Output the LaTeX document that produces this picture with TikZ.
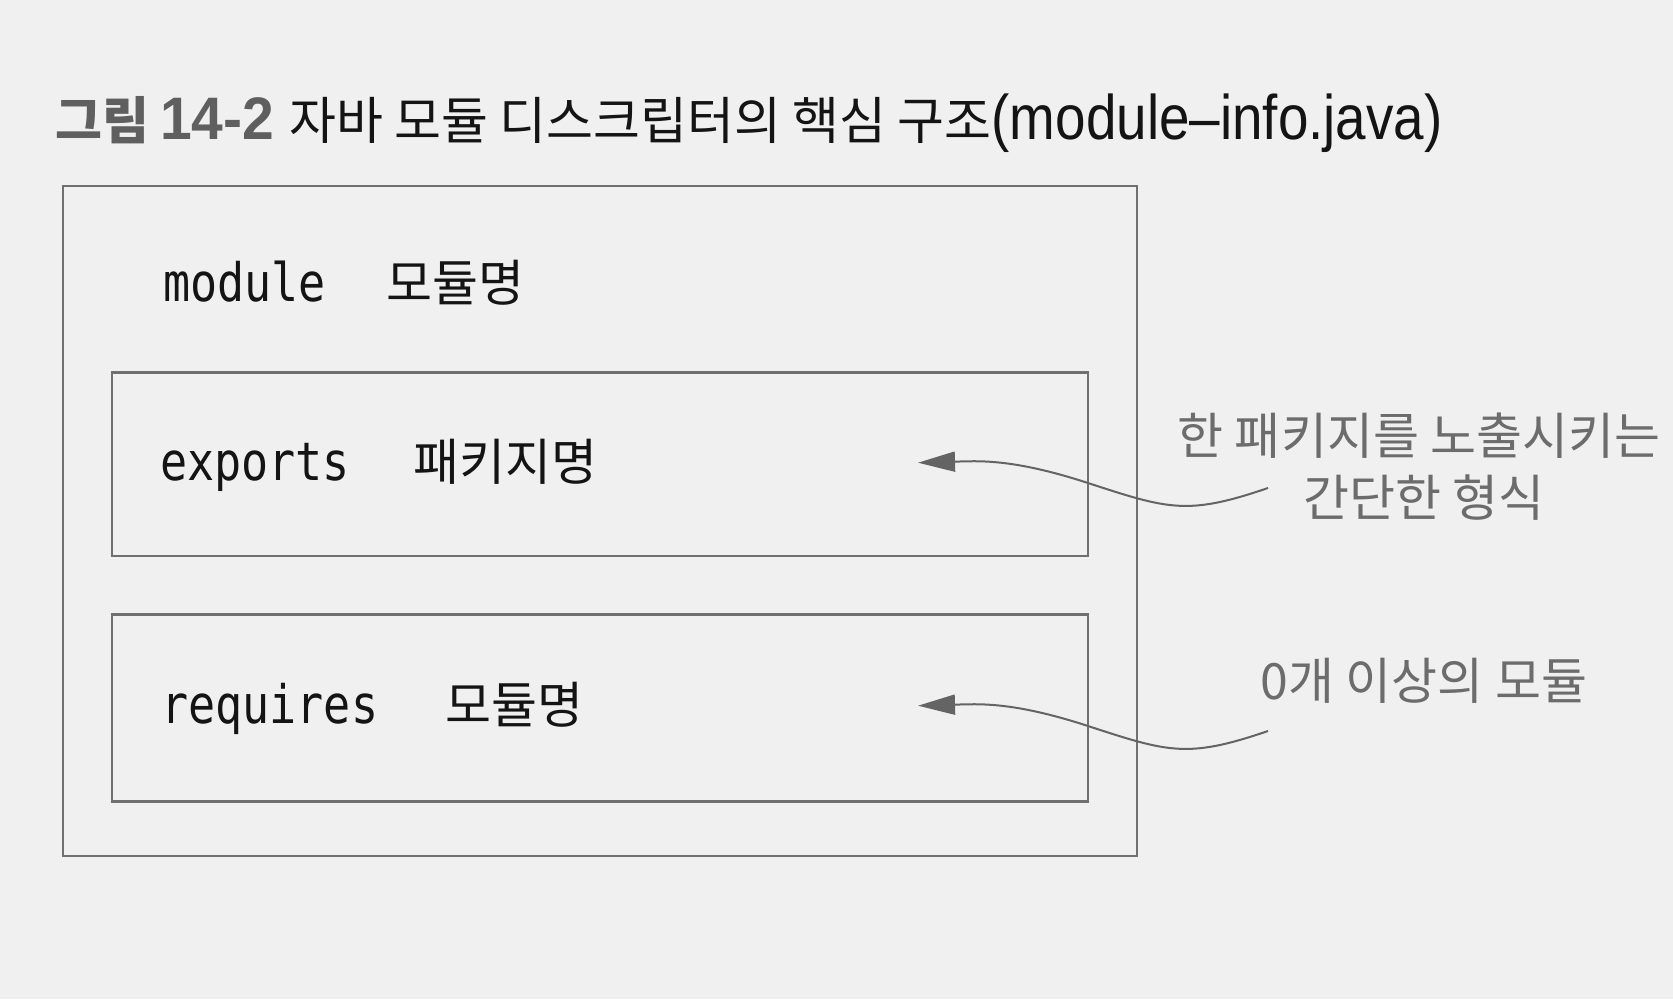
\documentclass[tikz,border=0pt]{standalone}
\usepackage{fontspec}
\usetikzlibrary{arrows.meta}
\newfontfamily\kr{Noto Sans CJK KR}
\newfontfamily\krmono[FakeStretch=0.85]{DejaVu Sans Mono}
\newfontfamily\krlat[FakeStretch=0.87]{Liberation Sans}
\newfontfamily\krlatb[FakeStretch=0.95]{Liberation Sans}
\definecolor{bgcol}{RGB}{240,240,240}
\definecolor{linecol}{RGB}{112,112,112}
\definecolor{arrcol}{RGB}{100,100,100}
\definecolor{notecol}{RGB}{108,108,108}
\definecolor{titlegray}{RGB}{95,95,95}
\definecolor{inkcol}{RGB}{20,20,20}
\tikzset{
  box/.style={draw=linecol, line width=2.8pt, rectangle, inner sep=0pt},
  kw/.style={inner sep=0pt, anchor=base west, text=inkcol, font=\krmono\fontsize{53}{60}\selectfont},
  krname/.style={inner sep=0pt, anchor=base west, text=inkcol, font=\kr\fontsize{50}{56}\selectfont},
  note/.style={inner sep=0pt, anchor=base, text=notecol, font=\kr\fontsize{50}{62}\selectfont},
  callout/.style={draw=arrcol, line width=2pt, -{Triangle[length=37pt,width=20pt]}},
}
\begin{document}
\begin{tikzpicture}[x=1pt,y=-1pt]
\fill[bgcol] (0,0) rectangle (1673,999);
\useasboundingbox (0,0) rectangle (1673,999);
% title
\node[inner sep=0pt, anchor=base west] (title) at (55,139)
  {{\kr\bfseries\fontsize{51}{60}\selectfont\color{titlegray}그림}\hspace{11pt}{\krlatb\bfseries\fontsize{60}{60}\selectfont\color{titlegray}14-2}\hspace{15pt}{\kr\fontsize{51}{60}\selectfont\color{inkcol}자바 모듈 디스크립터의 핵심 구조}{\krlat\fontsize{63}{70}\selectfont\color{inkcol}(module–info.java)}};
% boxes
\node[box, minimum width=1074pt, minimum height=670pt] (outer) at (600,521) {};
\node[box, minimum width=976pt, minimum height=183.5pt] (exp) at (600,464.25) {};
\node[box, minimum width=976pt, minimum height=186.7pt] (req) at (600,708) {};
% texts
\node[kw] (modkw) at (163,301) {module};
\node[krname] (modname) at (386,301) {모듈명};
\node[kw] (expkw) at (160,480) {exports};
\node[krname] (expname) at (413,480) {패키지명};
\node[kw] (reqkw) at (161,723) {requires};
\node[krname] (reqname) at (445,723) {모듈명};
% notes
\node[note] (note1a) at (1419,454) {한 패키지를 노출시키는};
\node[note] (note1b) at (1424,516) {간단한 형식};
\node[note] (note2) at (1424,699) {0개 이상의 모듈};
% connectors
\coordinate (e1) at (1268,488);
\coordinate (t1) at (918,462.7);
\coordinate (m1) at (1088,483);
\coordinate (e2) at (1268,731);
\coordinate (t2) at (918,705.7);
\coordinate (m2) at (1088,726);
\draw[callout] (e1) .. controls (1187.6,515.5) and (1168.8,509.4) .. (m1)
  .. controls (1012,458.2) and (978,461) .. (t1);
\draw[callout] (e2) .. controls (1187.6,758.5) and (1168.8,752.4) .. (m2)
  .. controls (1012,701.2) and (978,704) .. (t2);
\end{tikzpicture}
\end{document}
